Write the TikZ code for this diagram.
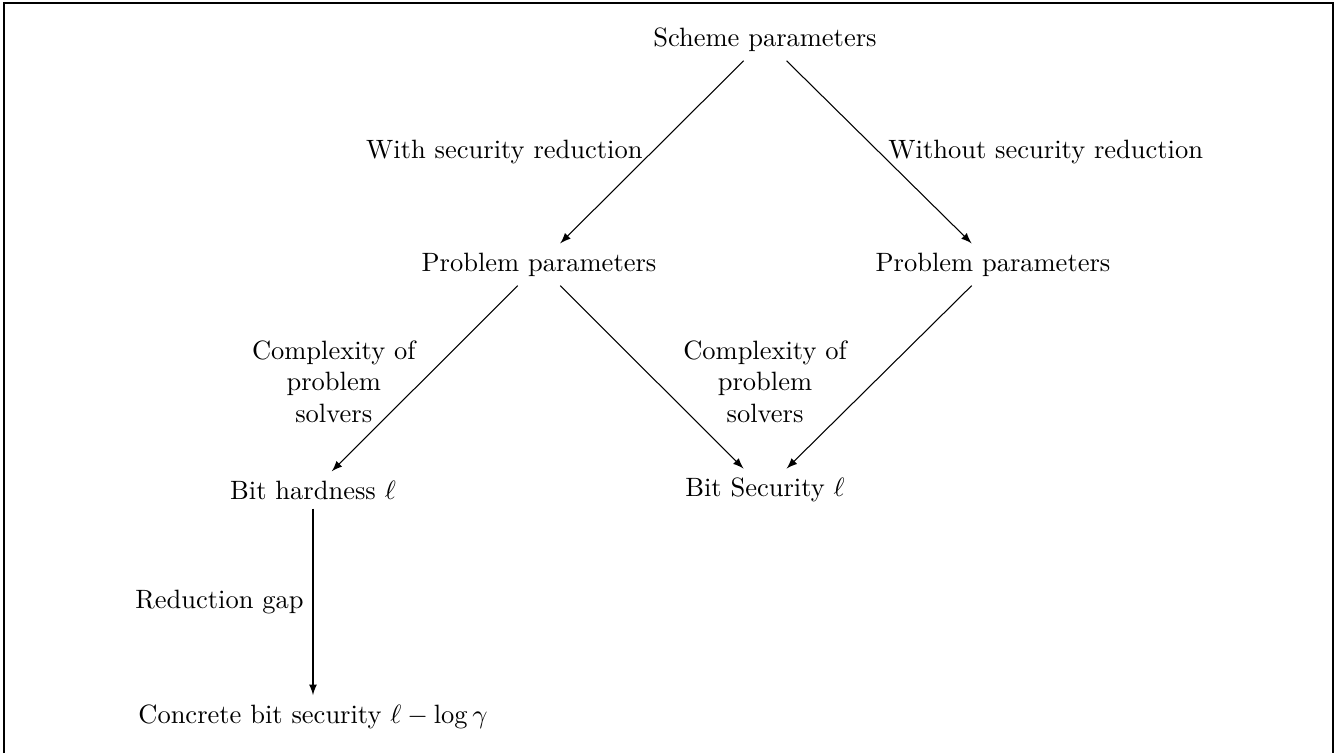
\documentclass[tikz,border=0pt]{standalone}
\usetikzlibrary{calc}
\begin{document}
\begin{tikzpicture}[x=0.3774pt,y=-0.3774pt,
  every node/.style={font=\fontsize{10pt}{12pt}\selectfont},
  item/.style={anchor=center},
  conn/.style={-latex,line width=0.4pt},
  lbl/.style={align=center}]
\useasboundingbox (0,0) rectangle (1340,753);
\draw[line width=0.5pt] (4,753) -- (4,3) -- (1333,3) -- (1333,753);
\node[item] (s)  at (765,39.5)  {Scheme parameters};
\node[item] (pl) at (539,264.5) {Problem parameters};
\node[item] (pr) at (993,264.5) {Problem parameters};
\node[item] (bh) at (313,490) {Bit hardness $\ell$};
\node[item] (bs) at (765,490) {Bit Security $\ell$};
\node[item] (cb) at (313,716.5) {Concrete bit security $\ell-\log\gamma$};
\draw[conn] (s) -- node[midway,left] {With security reduction} (pl);
\draw[conn] (s) -- node[midway,right] {Without security reduction} (pr);
\draw[conn] (pl) -- node[midway,left,lbl,yshift=-1.2pt] (c1) {Complexity of\\problem\\solvers} (bh);
\draw[conn] (pl) -- (bs);
\draw[conn] (pr) -- (bs);
\node[lbl] (c2) at (c1.center -| bs.center) {Complexity of\\problem\\solvers};
\draw[conn] (bh) -- node[midway,left] {Reduction gap} (cb);
\end{tikzpicture}
\end{document}
